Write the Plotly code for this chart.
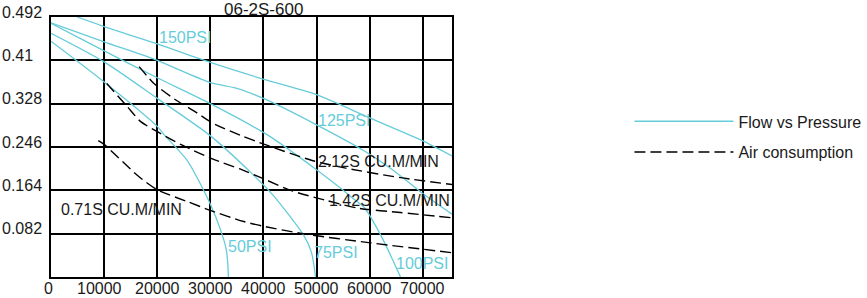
import plotly.graph_objects as go

# ---- data ----
x_ticks = [0, 10000, 20000, 30000, 40000, 50000, 60000, 70000]
x_tick_labels = ["0", "10000", "20000", "30000", "40000", "50000", "60000", "70000"]
y_ticks = [0.082, 0.164, 0.246, 0.328, 0.41, 0.492]
y_tick_labels = ["0.082", "0.164", "0.246", "0.328", "0.41\u00a0\u00a0", "0.492"]

psi150_x = [4900, 10000, 20000, 30000, 40100, 50000, 60000, 69900, 75500]
psi150_y = [0.492, 0.474, 0.441, 0.406, 0.374, 0.345, 0.301, 0.258, 0.229]

psi125_x = [0, 10000, 20000, 24400, 30000, 35000, 40200, 50000, 59100, 64300, 69600, 75500]
psi125_y = [0.481, 0.445, 0.410, 0.391, 0.368, 0.357, 0.337, 0.288, 0.238, 0.203, 0.161, 0.119]

psi100_x = [0, 10000, 20000, 30000, 40900, 50000, 54900, 56700, 59100, 61000, 62800, 64300, 65800]
psi100_y = [0.480, 0.428, 0.377, 0.328, 0.268, 0.203, 0.165, 0.150, 0.130, 0.099, 0.065, 0.033, 0.0]

psi75_x = [0, 10000, 20000, 29900, 37600, 41800, 47700, 49000, 49500, 49800]
psi75_y = [0.461, 0.407, 0.338, 0.268, 0.198, 0.155, 0.077, 0.048, 0.023, 0.0]

psi50_x = [0, 10000, 20000, 21400, 25600, 29900, 32100, 33000, 33300, 33400]
psi50_y = [0.446, 0.369, 0.285, 0.268, 0.221, 0.140, 0.084, 0.052, 0.023, 0.0]

air212_x = [16600, 19500, 23200, 26800, 30500, 35700, 40200, 49000, 55500, 65800, 75500]
air212_y = [0.398, 0.365, 0.337, 0.315, 0.291, 0.268, 0.251, 0.221, 0.206, 0.188, 0.175]

air142_x = [10500, 14400, 16900, 20200, 24400, 30500, 35700, 40200, 45400, 51800, 58000, 65800, 75500]
air142_y = [0.366, 0.322, 0.294, 0.274, 0.251, 0.223, 0.204, 0.185, 0.163, 0.145, 0.130, 0.122, 0.112]

air071_x = [8900, 10000, 16300, 20000, 25600, 30000, 36300, 40000, 47400, 59800, 75500]
air071_y = [0.258, 0.251, 0.192, 0.165, 0.143, 0.126, 0.105, 0.096, 0.082, 0.065, 0.046]

psi_curves = [
    ("150PSI", psi150_x, psi150_y, 25150, 0.4525),
    ("125PSI", psi125_x, psi125_y, 55200, 0.296),
    ("100PSI", psi100_x, psi100_y, 69800, 0.025),
    ("75PSI", psi75_x, psi75_y, 53700, 0.047),
    ("50PSI", psi50_x, psi50_y, 37500, 0.058),
]
air_curves = [
    ("2.12S CU.M/MIN", air212_x, air212_y, 61750, 0.218),
    ("1.42S CU.M/MIN", air142_x, air142_y, 63700, 0.144),
    ("0.71S CU.M/MIN", air071_x, air071_y, 13200, 0.127),
]

CYAN = "#66ccd9"
FONT = "Liberation Sans, Arial, sans-serif"
TXT = "#1a1a1a"

fig = go.Figure()
for i, (name, xs, ys, lx, ly) in enumerate(psi_curves):
    fig.add_trace(go.Scatter(
        x=xs, y=ys, mode="lines", name="Flow vs Pressure",
        legendgroup="flow", showlegend=(i == 0),
        line=dict(color=CYAN, width=1.3, shape="spline", smoothing=0.7),
        hoverinfo="skip"))
    fig.add_annotation(x=lx, y=ly, text=name, showarrow=False,
                       font=dict(color=CYAN, size=16, family=FONT),
                       xanchor="center", yanchor="middle")
for i, (name, xs, ys, lx, ly) in enumerate(air_curves):
    fig.add_trace(go.Scatter(
        x=xs, y=ys, mode="lines", name="Air consumption",
        legendgroup="air", showlegend=(i == 0),
        line=dict(color="black", width=1.4, dash="11px,5px", shape="spline", smoothing=0.7),
        hoverinfo="skip"))
    fig.add_annotation(x=lx, y=ly, text=name, showarrow=False,
                       font=dict(color=TXT, size=16, family=FONT),
                       xanchor="center", yanchor="middle")

# x tick labels (placed as text just under the axis)
x_label_shift = [-3, -5, 0, 0, 0, 0, 0, 0]
for v, lab, dx in zip(x_ticks, x_tick_labels, x_label_shift):
    fig.add_annotation(x=v, xref="x", y=-0.044, yref="paper", text=lab,
                       showarrow=False, xshift=dx,
                       font=dict(color=TXT, size=16, family=FONT),
                       xanchor="center", yanchor="middle")

fig.add_annotation(xref="paper", yref="paper", x=0.529, y=1.03,
                   text="06-2S-600", showarrow=False,
                   font=dict(color=TXT, size=17, family=FONT),
                   xanchor="center", yanchor="middle")

fig.update_layout(
    width=867, height=298,
    margin=dict(l=51, r=415, t=17, b=21, pad=0, autoexpand=False),
    paper_bgcolor="white", plot_bgcolor="white",
    font=dict(family=FONT, size=16, color=TXT),
    showlegend=True,
    legend=dict(x=1.4425, y=0.664, xanchor="left", yanchor="top",
                traceorder="grouped", tracegroupgap=7, itemwidth=99,
                font=dict(size=16, family=FONT, color=TXT),
                bgcolor="rgba(0,0,0,0)"),
)
fig.update_xaxes(range=[0, 75500], tickvals=x_ticks, showticklabels=False,
                 automargin=False,
                 showgrid=True, gridcolor="black", gridwidth=1.5,
                 showline=True, linecolor="black", linewidth=1.5, mirror=True,
                 zeroline=False, ticks="")
fig.update_yaxes(range=[0, 0.492], tickvals=y_ticks, ticktext=y_tick_labels,
                 automargin=False, ticklabelshift=-5, ticklabelstandoff=4,
                 showgrid=True, gridcolor="black", gridwidth=1.5,
                 showline=True, linecolor="black", linewidth=1.5, mirror=True,
                 zeroline=False, ticks="", tickfont=dict(size=16, family=FONT, color=TXT))

fig.write_html("out.html")
